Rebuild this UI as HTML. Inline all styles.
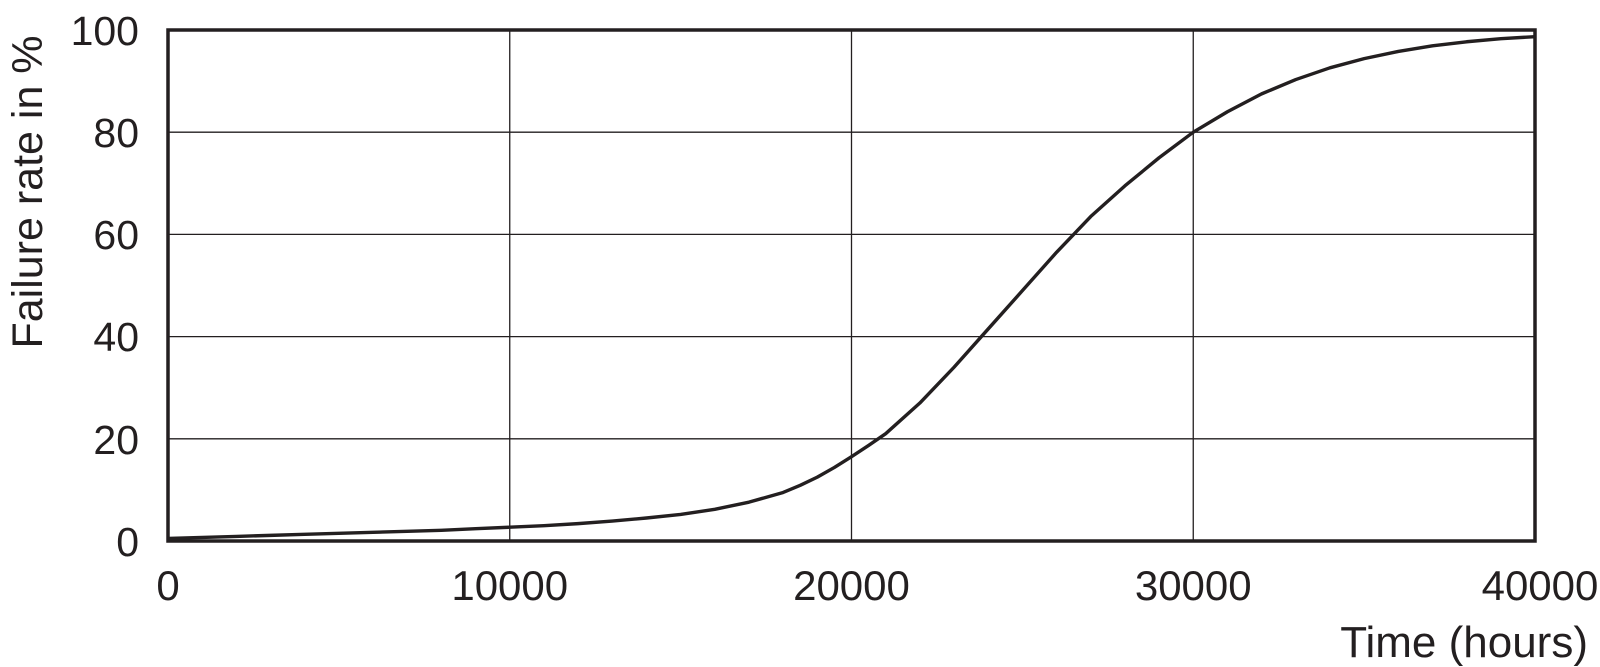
<!DOCTYPE html>
<html><head><style>
html,body{margin:0;padding:0;background:#fff;}
svg{display:block;}
text{font-family:"Liberation Sans",sans-serif;fill:#231f20;}
</style></head><body>
<svg width="1600" height="667" viewBox="0 0 1600 667">
<g stroke="#231f20" stroke-width="1.3">
<line x1="509.75" y1="30" x2="509.75" y2="541"/>
<line x1="851.5" y1="30" x2="851.5" y2="541"/>
<line x1="1193.25" y1="30" x2="1193.25" y2="541"/>
<line x1="168" y1="132.2" x2="1535" y2="132.2"/>
<line x1="168" y1="234.4" x2="1535" y2="234.4"/>
<line x1="168" y1="336.6" x2="1535" y2="336.6"/>
<line x1="168" y1="438.8" x2="1535" y2="438.8"/>
</g>
<rect x="168" y="30" width="1367" height="511" fill="none" stroke="#231f20" stroke-width="3.5"/>
<g transform="translate(168,541) scale(34.175,-5.11)">
<polyline fill="none" stroke="#231f20" stroke-width="3.4" vector-effect="non-scaling-stroke" stroke-linejoin="round"
points="0,0.5 1,0.7 2,0.9 3,1.1 4,1.3 5,1.5 6,1.7 7,1.9 8,2.1 9,2.4 10,2.7 11,3.0 12,3.4 13,3.9 14,4.5 15,5.2 16,6.2 17,7.6 18,9.5 18.5,10.9 19,12.5 19.5,14.4 20,16.5 20.5,18.7 21,21 22,27 23,34 24,41.5 25,49 26,56.5 27,63.5 28,69.5 29,75 30,80 31,84 32,87.5 33,90.3 34,92.6 35,94.4 36,95.8 37,96.9 38,97.7 39,98.3 40,98.7"/>
</g>
<g font-size="41" text-anchor="end">
<text x="139" y="45">100</text>
<text x="139" y="147">80</text>
<text x="139" y="249">60</text>
<text x="139" y="351">40</text>
<text x="139" y="454">20</text>
<text x="139" y="556">0</text>
</g>
<g font-size="42" text-anchor="middle">
<text x="168" y="600">0</text>
<text x="509.75" y="600">10000</text>
<text x="851.5" y="600">20000</text>
<text x="1193.25" y="600">30000</text>
<text x="1540" y="600">40000</text>
</g>
<text x="1588" y="657" font-size="44" text-anchor="end">Time (hours)</text>
<text transform="translate(42,192) rotate(-90)" font-size="43" text-anchor="middle">Failure rate in %</text>
</svg>
</body></html>
